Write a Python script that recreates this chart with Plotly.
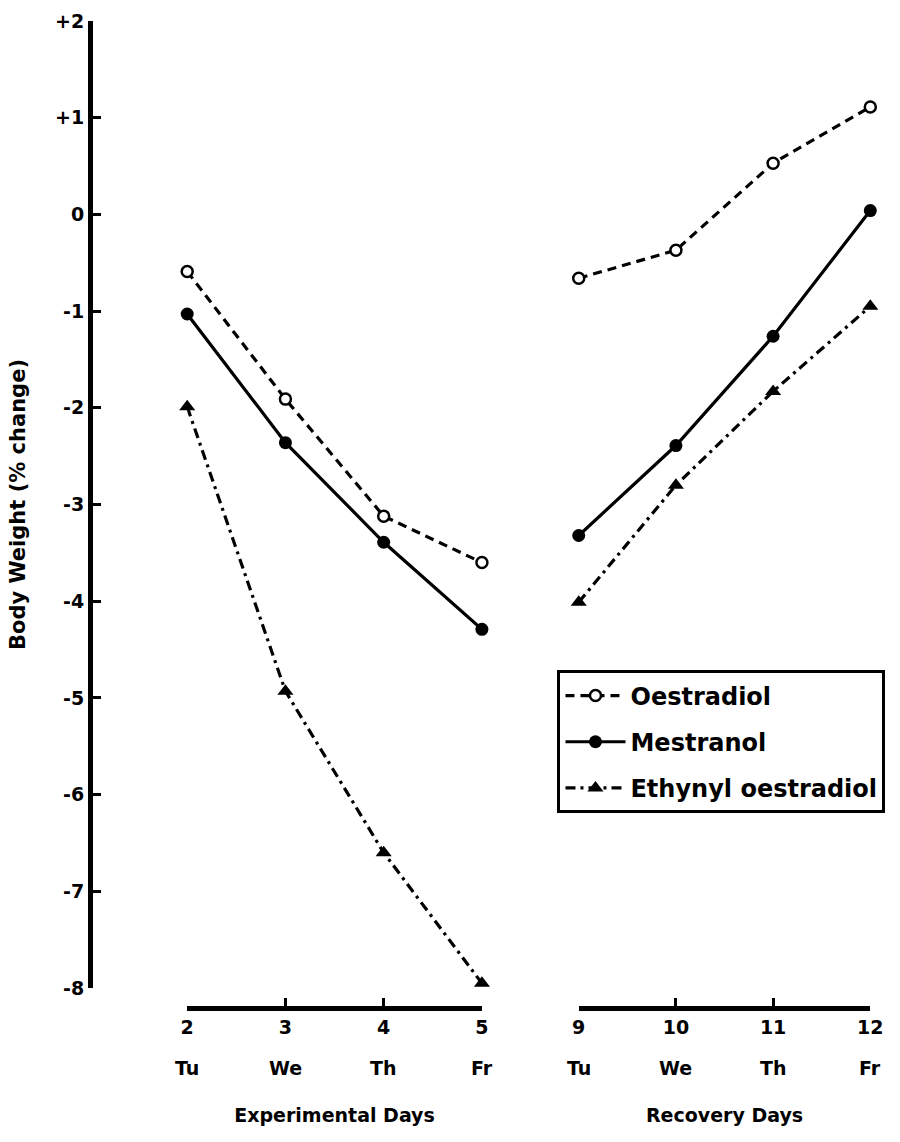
import plotly.graph_objects as go

# Day numbers and weekday labels for the two periods
exp_days = [2, 3, 4, 5]
exp_weekdays = ["Tu", "We", "Th", "Fr"]
rec_days = [9, 10, 11, 12]
rec_weekdays = ["Tu", "We", "Th", "Fr"]

# Body weight change (%) per compound
oestradiol_exp = [-0.59, -1.91, -3.12, -3.60]
oestradiol_rec = [-0.66, -0.37, 0.53, 1.11]
mestranol_exp = [-1.03, -2.36, -3.39, -4.29]
mestranol_rec = [-3.32, -2.39, -1.26, 0.04]
ethynyl_exp = [-1.99, -4.93, -6.60, -7.95]
ethynyl_rec = [-4.01, -2.80, -1.83, -0.95]

y_ticks = [-8, -7, -6, -5, -4, -3, -2, -1, 0, 1, 2]
y_ticktext = ["-8", "-7", "-6", "-5", "-4", "-3", "-2", "-1", "0", "+1", "+2"]

FONT = "DejaVu Sans"
INK = "black"

series = [
    ("Oestradiol", oestradiol_exp, oestradiol_rec, "9px,6px",
     dict(symbol="circle", size=11, color="white", line=dict(width=2.5, color=INK))),
    ("Mestranol", mestranol_exp, mestranol_rec, "solid",
     dict(symbol="circle", size=13, color=INK, line=dict(width=0))),
    ("Ethynyl oestradiol", ethynyl_exp, ethynyl_rec, "10px,5px,3px,5px",
     dict(symbol="triangle-up", size=14, color=INK, line=dict(width=0))),
]

fig = go.Figure()
for name, y_exp, y_rec, dash, marker in series:
    fig.add_trace(go.Scatter(
        x=exp_days, y=y_exp, xaxis="x", yaxis="y", name=name, legendgroup=name,
        mode="lines+markers", line=dict(color=INK, width=3.2, dash=dash),
        marker=marker, cliponaxis=False,
    ))
    fig.add_trace(go.Scatter(
        x=rec_days, y=y_rec, xaxis="x2", yaxis="y", name=name, legendgroup=name,
        showlegend=False, mode="lines+markers",
        line=dict(color=INK, width=3.2, dash=dash),
        marker=marker, cliponaxis=False,
    ))

axis_common = dict(
    showline=True, linecolor=INK, linewidth=5, showgrid=False, zeroline=False,
    ticks="inside", ticklen=8, tickwidth=3, tickcolor=INK,
)

bold = dict(family=FONT, color=INK, weight="bold")

# Weekday row beneath the day numbers of each period
for xref, days, weekdays in (("x", exp_days, exp_weekdays),
                             ("x2", rec_days, rec_weekdays)):
    for d, w in zip(days, weekdays):
        fig.add_annotation(
            x=d, xref=xref, y=0, yref="paper", yshift=-60,
            text=w, showarrow=False, font=dict(**bold, size=19),
            xanchor="center", yanchor="middle",
        )

fig.update_layout(
    width=900, height=1142,
    margin=dict(l=90, r=10, t=20, b=134),
    paper_bgcolor="white", plot_bgcolor="white",
    font=dict(**bold, size=18),
    showlegend=True,
    legend=dict(
        x=0.594, y=0.342, xanchor="left", yanchor="top",
        bordercolor=INK, borderwidth=3, bgcolor="white",
        font=dict(**bold, size=24),
        itemwidth=60, tracegroupgap=12,
    ),
    xaxis=dict(
        **axis_common, domain=[0.1235, 0.498], range=[2, 5],
        anchor="free", position=0,
        tickvals=exp_days, ticktext=[str(d) for d in exp_days],
        tickfont=dict(**bold, size=19),
        title=dict(text="Experimental Days", standoff=71,
                   font=dict(**bold, size=19)),
    ),
    xaxis2=dict(
        **axis_common, domain=[0.621, 0.9915], range=[9, 12],
        anchor="free", position=0,
        tickvals=rec_days, ticktext=[str(d) for d in rec_days],
        tickfont=dict(**bold, size=19),
        title=dict(text="Recovery Days", standoff=71,
                   font=dict(**bold, size=19)),
    ),
    yaxis=dict(
        **axis_common, domain=[0.0202, 1], range=[-8, 2],
        anchor="free", position=0,
        tickvals=y_ticks, ticktext=y_ticktext,
        tickfont=dict(**bold, size=19),
        title=dict(text="Body Weight (% change)", standoff=22,
                   font=dict(**bold, size=21)),
    ),
)

fig.write_html("out.html")
